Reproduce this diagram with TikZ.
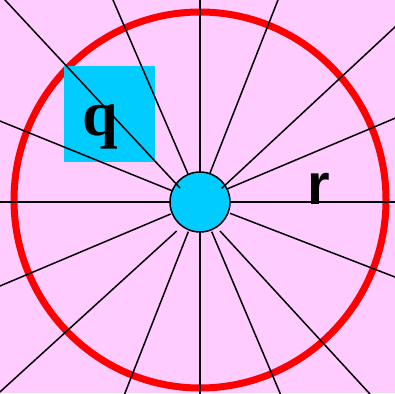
\documentclass[tikz,border=0pt]{standalone}
\usepackage{fontspec}
\newfontfamily\qfont{Liberation Serif}
\newfontfamily\rfont{Liberation Sans}
\definecolor{bgpink}{HTML}{FFCCFF}
\definecolor{cyanfill}{HTML}{00CCFF}
\begin{document}
\begin{tikzpicture}[x=1pt,y=-1pt,
  spoke/.style={line width=1.5pt, black},
  rim/.style={red, line width=7pt},
  hubdisc/.style={circle, fill=cyanfill, draw=black, line width=1.5pt, minimum size=60pt, inner sep=0pt},
  qsquare/.style={rectangle, fill=cyanfill, minimum width=91pt, minimum height=96pt, inner sep=0pt},
  qlabel/.style={anchor=base west, inner sep=0pt, font=\qfont\bfseries\fontsize{64}{64}\selectfont},
  rlabel/.style={anchor=base west, inner sep=0pt, font=\rfont\bfseries\fontsize{58}{58}\selectfont}]
\useasboundingbox (0,0) rectangle (395,393);
\clip (0,0) rectangle (395,393);
\fill[bgpink] (0,0) rectangle (395,393);
\draw[rim] (200,200) ellipse [x radius=186pt, y radius=188pt];
\node[qsquare] (qbox) at (109.5,114) {};
\node[qlabel] (q) at (82,135) {q};
\node[rlabel] (r) at (307.5,204) {r};
\node[hubdisc] (hub) at (200,202) {};
% outer ends
\coordinate (o1) at (405,202);
\coordinate (o2) at (405,114);
\coordinate (o3) at (405,17.7);
\coordinate (o4) at (281.9,-10);
\coordinate (o5) at (200,-10);
\coordinate (o6) at (108.7,-10);
\coordinate (o7) at (-4.3,-10);
\coordinate (o8) at (-10,117);
\coordinate (o9) at (-10,202);
\coordinate (o10) at (-10,290.2);
\coordinate (o11) at (-10,401);
\coordinate (o12) at (121.1,403);
\coordinate (o13) at (200,403);
\coordinate (o14) at (284.2,403);
\coordinate (o15) at (378.2,403);
\coordinate (o16) at (405,280.9);
% inner ends
\coordinate (i1) at (230,202);
\coordinate (i2) at (227,189);
\coordinate (i3) at (221.7,188.3);
\coordinate (i4) at (210,173);
\coordinate (i5) at (200,172);
\coordinate (i6) at (188,174);
\coordinate (i7) at (180,188);
\coordinate (i8) at (172.7,191);
\coordinate (i9) at (170,202);
\coordinate (i10) at (170.7,214);
\coordinate (i11) at (176.7,231);
\coordinate (i12) at (188.3,231.7);
\coordinate (i13) at (200,232);
\coordinate (i14) at (211.7,231.7);
\coordinate (i15) at (220,231);
\coordinate (i16) at (230,213.3);
\foreach \k in {1,...,16} {\draw[spoke] (o\k) -- (i\k);}
\end{tikzpicture}
\end{document}
